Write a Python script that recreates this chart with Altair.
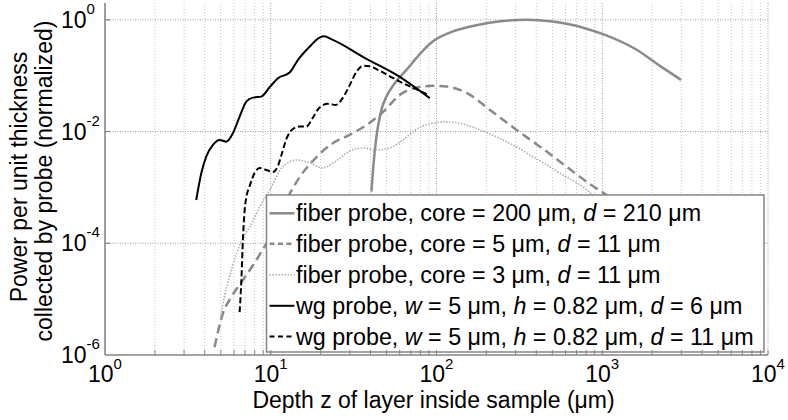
import altair as alt
import pandas as pd

# ---------------- data ----------------
x_fiber200 = [40.5, 41.4, 43.4, 46.5, 49.9, 56.0, 65.9, 75.7, 86.0, 95.3, 110, 126, 158, 200, 251, 349, 501, 631, 794, 1000, 1585, 2228, 2987]
y_fiber200 = [8.4e-4, 2.05e-3, 8.1e-3, 0.0244, 0.0422, 0.0734, 0.127, 0.208, 0.315, 0.415, 0.527, 0.62, 0.75, 0.866, 0.95, 1.0, 0.93, 0.83, 0.70, 0.56, 0.30, 0.15, 0.084]

x_fiber5 = [4.58, 5.15, 5.78, 6.79, 8.18, 9.85, 12.4, 14.95, 18.9, 23.8, 29.9, 37.8, 47.6, 60.0, 79.3, 95.4, 115, 152, 210, 304, 421, 610, 805, 1063, 1690]
y_fiber5 = [1.38e-6, 5.61e-6, 1.09e-5, 2.19e-5, 5.0e-5, 1.29e-4, 5.9e-4, 1.53e-3, 3.5e-3, 6.25e-3, 8.7e-3, 0.0131, 0.0225, 0.0453, 0.063, 0.0657, 0.0638, 0.0492, 0.0244, 0.0107, 5.36e-3, 2.35e-3, 1.26e-3, 7.3e-4, 2.6e-4]

x_fiber3 = [4.98, 5.27, 5.57, 6.23, 6.96, 7.46, 8.57, 9.85, 11.8, 14.3, 17.2, 20.6, 24.3, 30.0, 35.9, 43.6, 52.2, 62.6, 76.0, 91.1, 115, 144, 183, 231, 289, 366, 463, 579, 765, 879, 1279]
y_fiber3 = [4.56e-6, 1.18e-5, 2.19e-5, 6.67e-5, 1.40e-4, 1.95e-4, 4.46e-4, 8.98e-4, 2.32e-3, 3.10e-3, 2.74e-3, 2.23e-3, 2.85e-3, 4.49e-3, 5.08e-3, 4.68e-3, 5.08e-3, 7.06e-3, 0.0111, 0.0137, 0.0149, 0.0137, 0.0107, 8.0e-3, 5.75e-3, 3.81e-3, 2.52e-3, 1.67e-3, 1.02e-3, 7.3e-4, 3.6e-4]

x_wg6 = [3.55, 3.81, 4.08, 4.48, 4.91, 5.40, 5.91, 6.49, 7.12, 7.81, 8.77, 9.85, 11.05, 13.0, 14.6, 17.2, 19.7, 20.9, 23.7, 37.8, 57.4, 91.1]
y_wg6 = [5.94e-4, 1.79e-3, 3.55e-3, 5.75e-3, 7.07e-3, 6.59e-3, 9.33e-3, 0.0185, 0.0344, 0.0405, 0.0422, 0.0622, 0.0902, 0.1137, 0.192, 0.333, 0.48, 0.506, 0.438, 0.2, 0.103, 0.0395]

x_wg11 = [6.49, 6.65, 6.79, 6.96, 7.15, 7.46, 7.99, 8.57, 9.41, 10.3, 11.05, 11.6, 12.5, 13.6, 14.95, 16.4, 17.9, 19.7, 22.1, 24.7, 27.2, 30.0, 32.9, 36.1, 39.6, 45.5, 54.5, 65.9, 79.3, 89.0]
y_wg11 = [5.85e-6, 2.19e-5, 1.14e-4, 3.94e-4, 7.02e-4, 1.06e-3, 1.81e-3, 2.23e-3, 2.05e-3, 1.89e-3, 2.42e-3, 3.81e-3, 7.68e-3, 0.0111, 0.0123, 0.0123, 0.0175, 0.027, 0.0313, 0.030, 0.040, 0.0684, 0.117, 0.150, 0.147, 0.122, 0.0914, 0.0684, 0.0534, 0.0453]

legend_labels = [
    "fiber probe, core = 200 \u03bcm, _d_ = 210 \u03bcm",
    "fiber probe, core = 5 \u03bcm, _d_ = 11 \u03bcm",
    "fiber probe, core = 3 \u03bcm, _d_ = 11 \u03bcm",
    "wg probe, _w_ = 5 \u03bcm, _h_ = 0.82 \u03bcm, _d_ = 6 \u03bcm",
    "wg probe, _w_ = 5 \u03bcm, _h_ = 0.82 \u03bcm, _d_ = 11 \u03bcm",
]

x_major = [1, 10, 100, 1000, 10000]
x_exp = ["0", "1", "2", "3", "4"]
x_minor = [k * 10 ** e for e in range(4) for k in range(2, 10)]
y_major = [1, 1e-2, 1e-4, 1e-6]
y_exp = ["0", "-2", "-4", "-6"]

x_title = "Depth z of layer inside sample (\u03bcm)"
y_title = ["Power per unit thickness", "collected by probe (normalized)"]

# ---------------- layout ----------------
W, H = 663, 352
FONT = "Liberation Sans"
AX = "#858585"
xs = alt.Scale(type="log", domain=[1, 10000])
ys = alt.Scale(type="log", domain=[1e-6, 2])
one = pd.DataFrame({"a": [0]})


def X(f):
    return alt.X(f, scale=xs, axis=None)


def Y(f):
    return alt.Y(f, scale=ys, axis=None)


layers = []

# grid
layers.append(alt.Chart(pd.DataFrame({"v": x_minor})).mark_rule(
    color="#c4c4c4", strokeDash=[1, 2], strokeWidth=1).encode(
    x=X("v:Q"), y=alt.value(0), y2=alt.value(H)))
layers.append(alt.Chart(pd.DataFrame({"v": x_major})).mark_rule(
    color="#a0a0a0", strokeDash=[1, 1.5], strokeWidth=1).encode(
    x=X("v:Q"), y=alt.value(0), y2=alt.value(H)))
layers.append(alt.Chart(pd.DataFrame({"v": y_major[:3]})).mark_rule(
    color="#a0a0a0", strokeDash=[1, 1.5], strokeWidth=1).encode(
    y=Y("v:Q"), x=alt.value(0), x2=alt.value(W)))

# curves
styles = [
    (x_fiber200, y_fiber200, "#8a8a8a", 2.5, None, None),
    (x_fiber5, y_fiber5, "#8a8a8a", 2.5, [9, 5], [5, 3.5]),
    (x_fiber3, y_fiber3, "#adadad", 1.6, [1.5, 1.5], [1.5, 1.5]),
    (x_wg6, y_wg6, "#000000", 2.0, None, None),
    (x_wg11, y_wg11, "#000000", 2.0, [6, 3], [5, 3.5]),
]
for xv, yv, col, w, dash, _ in styles:
    df = pd.DataFrame({"x": xv, "y": yv, "i": list(range(len(xv)))})
    mk = dict(color=col, strokeWidth=w, interpolate="monotone", clip=True)
    if dash:
        mk["strokeDash"] = dash
    layers.append(alt.Chart(df).mark_line(**mk).encode(x=X("x:Q"), y=Y("y:Q"), order="i:Q"))

# legend box
LX0, LX1, LY0, LY1 = 161.5, 659, 192, 349
layers.append(alt.Chart(one).mark_rect(fill="white", stroke=AX, strokeWidth=1.5).encode(
    x=alt.value(LX0), x2=alt.value(LX1), y=alt.value(LY0), y2=alt.value(LY1)))

row_c = [210.3, 240.8, 271.8, 302.8, 333.5]
for (xv, yv, col, w, _, sdash), cy in zip(styles, row_c):
    mk = dict(color=col, strokeWidth=w)
    if sdash:
        mk["strokeDash"] = sdash
    layers.append(alt.Chart(one).mark_rule(**mk).encode(
        x=alt.value(164.5), x2=alt.value(189.5), y=alt.value(cy)))

# legend text (mixed upright / italic segments)
WID = {' ': 278, ',': 278, '.': 278, '=': 584, 'a': 556, 'b': 556, 'c': 500, 'd': 556,
       'e': 556, 'f': 278, 'g': 556, 'h': 556, 'i': 222, 'k': 500, 'l': 222, 'm': 833,
       'n': 556, 'o': 556, 'p': 556, 'r': 333, 's': 500, 't': 278, 'u': 556, 'w': 722,
       '\u03bc': 577}
LFS = 23.3


def tw(s):
    return sum(WID.get(c, 556) for c in s) / 1000 * LFS


rows = []
for lab, cy in zip(legend_labels, row_c):
    cur = 191.0
    for k, seg in enumerate(lab.split("_")):
        lead = len(seg) - len(seg.lstrip(" "))
        if seg.strip():
            rows.append({"t": seg.strip(), "px": cur + tw(" " * lead), "py": cy + 8, "it": k % 2})
        cur += tw(seg)
seg_df = pd.DataFrame(rows)
for it, style in [(0, "normal"), (1, "italic")]:
    layers.append(alt.Chart(seg_df[seg_df.it == it]).mark_text(
        font=FONT, fontSize=LFS, fontStyle=style, align="left", baseline="alphabetic", color="black").encode(
        x=alt.X("px:Q", scale=None, axis=None), y=alt.Y("py:Q", scale=None, axis=None), text="t:N"))

# axis lines and inward ticks
layers.append(alt.Chart(one).mark_rule(color=AX, strokeWidth=1.5).encode(
    x=alt.value(0), y=alt.value(0), y2=alt.value(H)))
layers.append(alt.Chart(one).mark_rule(color=AX, strokeWidth=1.5).encode(
    x=alt.value(0), x2=alt.value(W), y=alt.value(H)))
layers.append(alt.Chart(pd.DataFrame({"v": x_minor + x_major[1:]})).mark_rule(color=AX, strokeWidth=1).encode(
    x=X("v:Q"), y=alt.value(H - 5), y2=alt.value(H)))
layers.append(alt.Chart(pd.DataFrame({"v": y_major[:3]})).mark_rule(color=AX, strokeWidth=1.2).encode(
    y=Y("v:Q"), x=alt.value(0), x2=alt.value(5)))

# tick labels
xl = pd.DataFrame({"v": x_major, "e": x_exp})
layers.append(alt.Chart(xl).mark_text(text="10", font=FONT, fontSize=23, align="right",
                                      baseline="alphabetic", dx=8.5, color="black").encode(
    x=X("v:Q"), y=alt.value(H + 27)))
layers.append(alt.Chart(xl).mark_text(font=FONT, fontSize=15, align="left",
                                      baseline="alphabetic", dx=8.5, color="black").encode(
    x=X("v:Q"), y=alt.value(H + 14), text="e:N"))
yl = pd.DataFrame({"v": y_major, "e": y_exp})
layers.append(alt.Chart(yl).mark_text(text="10", font=FONT, fontSize=23, align="right",
                                      baseline="alphabetic", dy=8.2, color="black").encode(
    x=alt.value(-18.5), y=Y("v:Q")))
layers.append(alt.Chart(yl).mark_text(font=FONT, fontSize=15, align="left",
                                      baseline="alphabetic", dy=-6, color="black").encode(
    x=alt.value(-18.5), y=Y("v:Q"), text="e:N"))

# axis titles
layers.append(alt.Chart(one).mark_text(text=x_title, font=FONT, fontSize=23, align="center",
                                       baseline="alphabetic", color="black").encode(
    x=alt.value(328.5), y=alt.value(H + 53)))
layers.append(alt.Chart(one).mark_text(text=y_title[0], font=FONT, fontSize=23, align="center",
                                       baseline="alphabetic", angle=270, color="black").encode(
    x=alt.value(-78), y=alt.value(174)))
layers.append(alt.Chart(one).mark_text(text=y_title[1], font=FONT, fontSize=23, align="center",
                                       baseline="alphabetic", angle=270, color="black").encode(
    x=alt.value(-53), y=alt.value(178)))

chart = alt.layer(*layers).properties(
    width=W, height=H,
    autosize=alt.AutoSizeParams(type="none"),
    padding={"left": 105, "top": 3, "right": 20, "bottom": 65},
    background="white",
).configure_view(stroke=None)

chart.save("out.html", embed_options={"renderer": "svg", "actions": False})
